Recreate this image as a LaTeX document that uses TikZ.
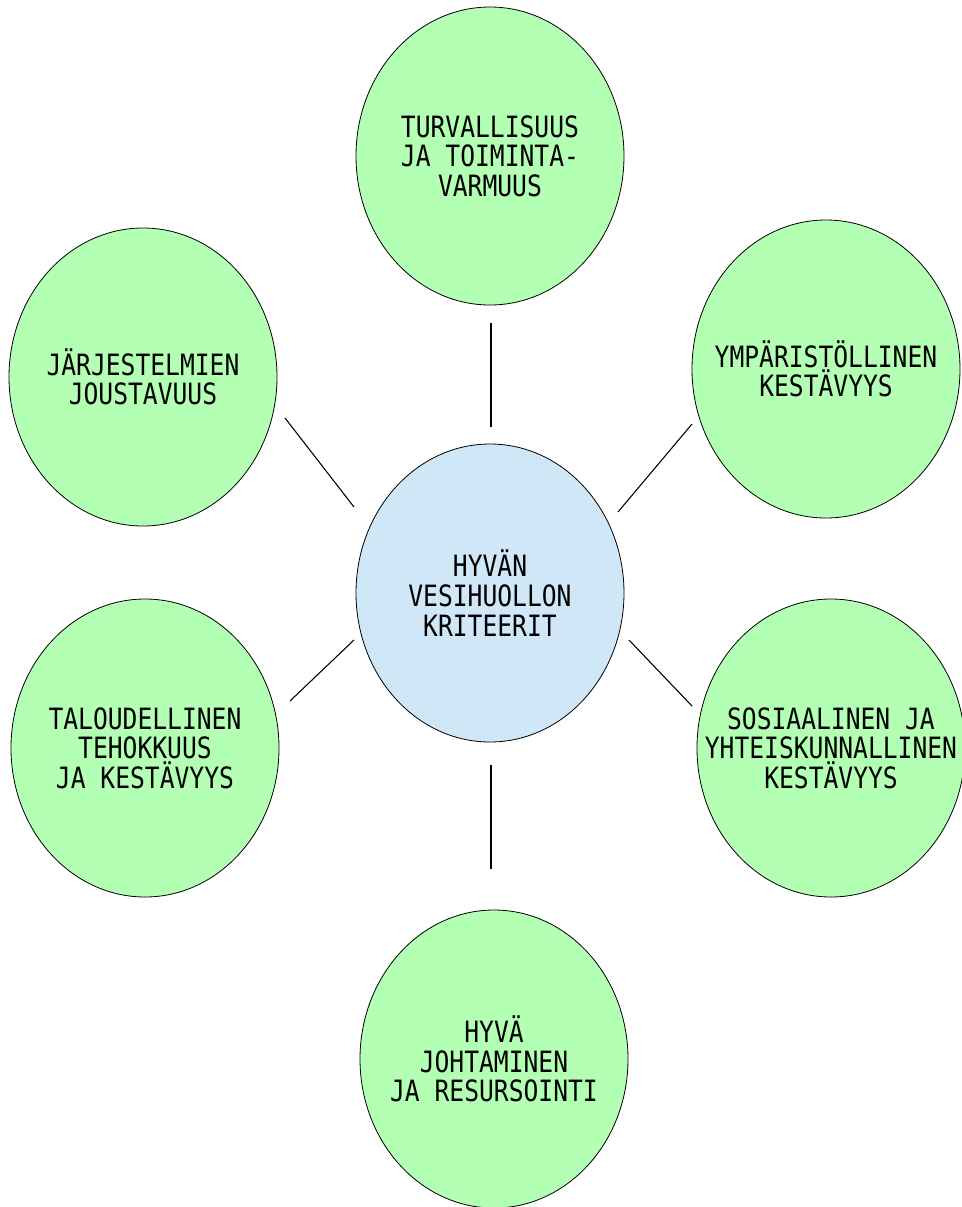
\documentclass[tikz,border=0pt]{standalone}
\usepackage{fontspec}
\newfontfamily\lblfont{DejaVu Sans Mono}[FakeStretch=0.84]
\usetikzlibrary{shapes.geometric}
\definecolor{leafgreen}{RGB}{179,255,179}
\definecolor{hubblue}{RGB}{207,231,247}
\begin{document}
\begin{tikzpicture}[x=0.75pt,y=-0.75pt,
  bubble/.style={ellipse, draw=black, line width=0.6pt, fill=leafgreen,
    minimum width=201pt, minimum height=223.5pt, inner sep=-60pt,
    align=center, font=\lblfont\fontsize{22}{22.2}\selectfont},
  hub/.style={bubble, fill=hubblue},
  link/.style={draw=black, line width=0.8pt}]
\useasboundingbox (0,0) rectangle (961,1207);
\node[hub] (c) at (490,593) {HYVÄN\\VESIHUOLLON\\KRITEERIT};
\node[bubble] (t) at (490,156) {TURVALLISUUS\\JA TOIMINTA-\\VARMUUS};
\node[bubble] (ul) at (143,377) {JÄRJESTELMIEN\\JOUSTAVUUS};
\node[bubble] (ur) at (826,369) {YMPÄRISTÖLLINEN\\KESTÄVYYS};
\node[bubble] (ll) at (145,748) {TALOUDELLINEN\\TEHOKKUUS\\JA KESTÄVYYS};
\node[bubble] (lr) at (831,748) {SOSIAALINEN JA\\YHTEISKUNNALLINEN\\KESTÄVYYS};
\node[bubble] (b) at (494,1059) {HYVÄ\\JOHTAMINEN\\JA RESURSOINTI};
\coordinate (t1) at (491,323);  \coordinate (t2) at (491,427);
\coordinate (b1) at (491,765);  \coordinate (b2) at (491,869);
\coordinate (ul1) at (285,418); \coordinate (ul2) at (354,507);
\coordinate (ur1) at (692,424); \coordinate (ur2) at (618,512);
\coordinate (ll1) at (354,640); \coordinate (ll2) at (290,701);
\coordinate (lr1) at (629,640); \coordinate (lr2) at (692,706);
\draw[link] (t1) -- (t2);
\draw[link] (b1) -- (b2);
\draw[link] (ul1) -- (ul2);
\draw[link] (ur1) -- (ur2);
\draw[link] (ll1) -- (ll2);
\draw[link] (lr1) -- (lr2);
\end{tikzpicture}
\end{document}
